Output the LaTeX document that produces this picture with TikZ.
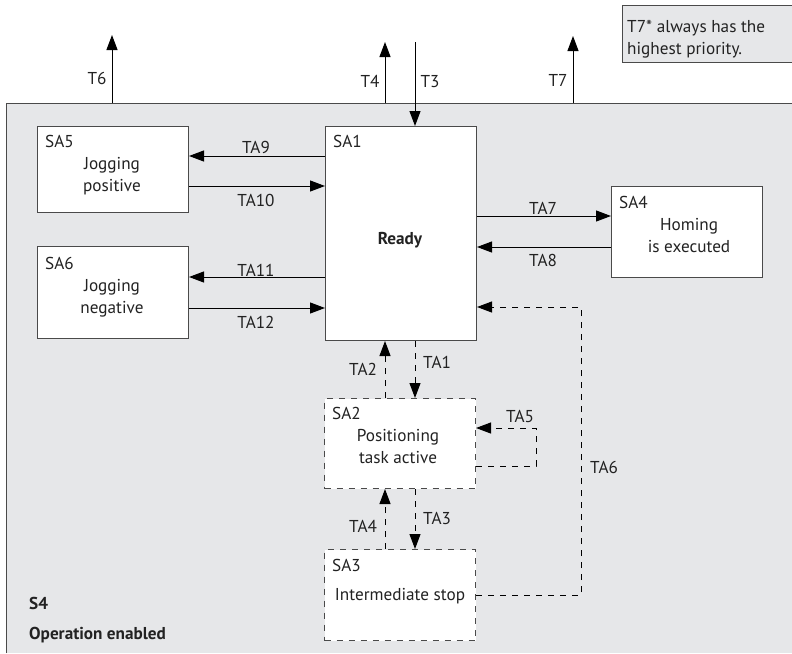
\documentclass[tikz,border=0pt]{standalone}
\usepackage{fontspec}
\setmainfont{PT Sans}
\usetikzlibrary{arrows.meta}
\definecolor{bggray}{HTML}{E6E7E9}
\definecolor{linegray}{HTML}{4A4A4A}
\definecolor{txt}{HTML}{222222}
\begin{document}
\begin{tikzpicture}[x=1pt,y=-1pt,
  font=\fontsize{17.2}{22}\selectfont, text=txt,
  box/.style={draw=linegray, line width=1pt, fill=white, minimum width=151pt, anchor=north west, inner sep=0pt},
  dbox/.style={box, dash pattern=on 6pt off 6pt},
  arr/.style={draw=black, line width=1pt, -{Triangle[length=15pt,width=11pt]}},
  darr/.style={arr, dash pattern=on 6pt off 6pt},
  lbl/.style={inner sep=0pt, anchor=center},
  wlbl/.style={inner sep=0pt, anchor=west},
  inner/.style={inner sep=0pt, anchor=center, align=center}]
\useasboundingbox (0,0) rectangle (792,653);
% background area
\fill[bggray] (6,103) rectangle (792,653);
\draw[linegray, line width=1pt] (6,653) -- (6,103) -- (792,103);
% note box
\fill[bggray] (622,5) rectangle (792,62);
\draw[linegray, line width=1pt] (792,5) -- (622,5) -- (622,62) -- (792,62);
\node[wlbl, align=left] (note) at (627,39) {T7* always has the\\highest priority.};
% boxes
\node[box, minimum height=86pt] (sa5) at (37,126) {};
\node[box, minimum height=214pt] (sa1) at (325,126) {};
\node[box, minimum height=92pt] (sa6) at (37,246) {};
\node[box, minimum height=91pt] (sa4) at (611,186) {};
\node[dbox, minimum height=90pt] (sa2) at (324,398) {};
\node[dbox, minimum height=91pt] (sa3) at (324,549) {};
% box texts
\node[wlbl] (sa5l) at (45,141) {SA5};
\node[inner] (sa5t) at (112,176) {Jogging\\positive};
\node[wlbl] (sa1l) at (333,141) {SA1};
\node[inner, font=\fontsize{17.2}{22}\selectfont\bfseries] (sa1t) at (400,240) {Ready};
\node[wlbl] (sa6l) at (45,263) {SA6};
\node[inner] (sa6t) at (112,298) {Jogging\\negative};
\node[wlbl] (sa4l) at (619,202) {SA4};
\node[inner] (sa4t) at (689,236) {Homing\\is executed};
\node[wlbl] (sa2l) at (332,413) {SA2};
\node[inner] (sa2t) at (398,447) {Positioning\\task active};
\node[wlbl] (sa3l) at (332,565) {SA3};
\node[inner] (sa3t) at (400,596) {Intermediate stop};
\node[wlbl, font=\fontsize{17.2}{22}\selectfont\bfseries] (s4) at (29,603) {S4};
\node[wlbl, font=\fontsize{17.2}{22}\selectfont\bfseries] (s4t) at (29,635) {Operation enabled};
% external transitions
\coordinate (t6a) at (112,103); \coordinate (t6b) at (112,35);
\coordinate (t4a) at (385,103); \coordinate (t4b) at (385,42);
\coordinate (t3a) at (415,42);
\coordinate (t7a) at (573,103); \coordinate (t7b) at (573,36);
\draw[arr] (t6a) -- (t6b);
\draw[arr] (t4a) -- (t4b);
\draw[arr] (t3a) -- (sa1.north -| t3a);
\draw[arr] (t7a) -- (t7b);
\node[lbl] (t6l) at (97,78) {T6};
\node[lbl] (t4l) at (370,81) {T4};
\node[lbl] (t3l) at (430,82) {T3};
\node[lbl] (t7l) at (558,80) {T7};
% solid transitions
\draw[arr] (sa1.west |- 0,156) -- (sa5.east |- 0,156);
\draw[arr] (sa5.east |- 0,186) -- (sa1.west |- 0,186);
\draw[arr] (sa1.west |- 0,277) -- (sa6.east |- 0,277);
\draw[arr] (sa6.east |- 0,308) -- (sa1.west |- 0,308);
\draw[arr] (sa1.east |- 0,216) -- (sa4.west |- 0,216);
\draw[arr] (sa4.west |- 0,247) -- (sa1.east |- 0,247);
\node[lbl] (ta9) at (256,147) {TA9};
\node[lbl] (ta10) at (256,200) {TA10};
\node[lbl] (ta11) at (256,270) {TA11};
\node[lbl] (ta12) at (256,322) {TA12};
\node[lbl] (ta7) at (543,208) {TA7};
\node[lbl] (ta8) at (543,260) {TA8};
% dashed transitions
\draw[darr] (sa2.north -| 385,0) -- (sa1.south -| 385,0);
\draw[darr] (sa1.south -| 415,0) -- (sa2.north -| 415,0);
\draw[darr] (sa3.north -| 385,0) -- (sa2.south -| 385,0);
\draw[darr] (sa2.south -| 415,0) -- (sa3.north -| 415,0);
\draw[darr] (sa2.east |- 0,466) -- (536,466) -- (536,428) -- (sa2.east |- 0,428);
\draw[darr] (sa3.east |- 0,595) -- (581,595) -- (581,307) -- (sa1.east |- 0,307);
\node[lbl] (ta2) at (363,369) {TA2};
\node[lbl] (ta1) at (437,362) {TA1};
\node[lbl] (ta5) at (520,416) {TA5};
\node[lbl] (ta4) at (363,526) {TA4};
\node[lbl] (ta3) at (437,518) {TA3};
\node[lbl] (ta6) at (604,467) {TA6};
\end{tikzpicture}
\end{document}
